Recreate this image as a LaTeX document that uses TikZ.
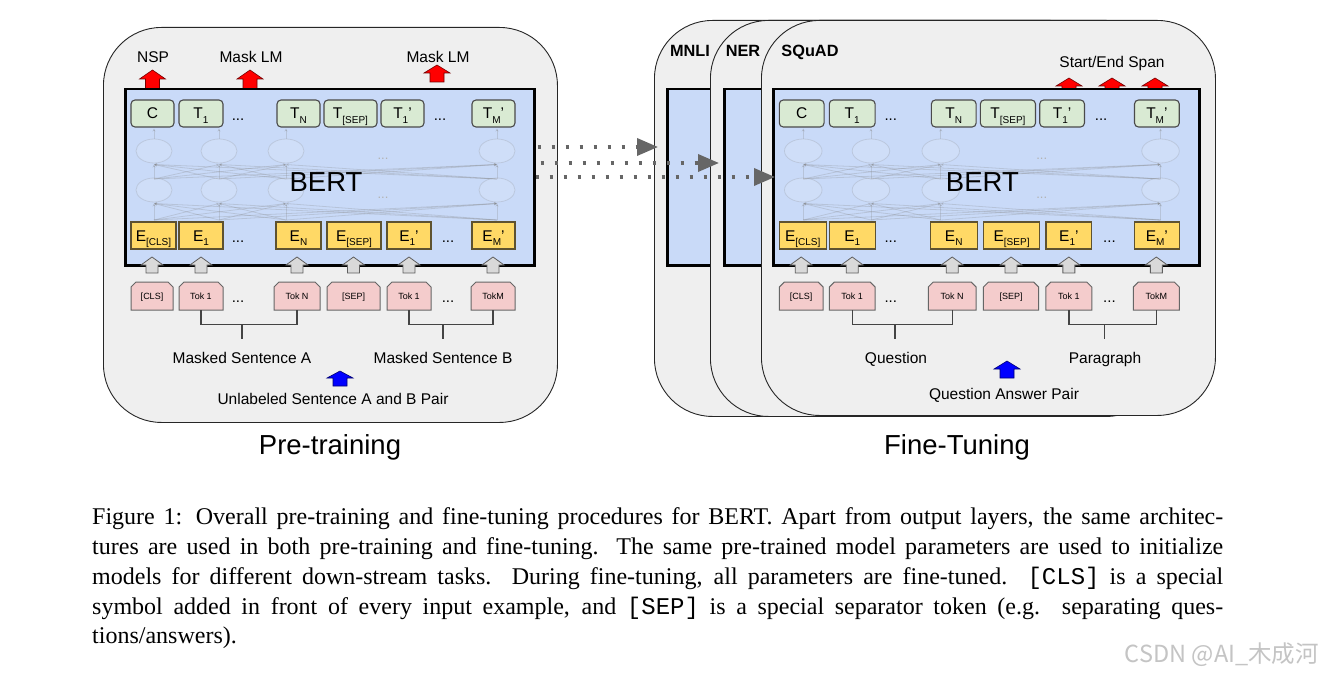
\documentclass[tikz,border=0pt]{standalone}
\usepackage{fontspec}
\setmainfont{Liberation Sans}
\setmonofont{Liberation Mono}
\newfontfamily\capfont{Liberation Serif}
\newfontfamily\cjkfont{Noto Sans CJK SC}
\usetikzlibrary{arrows.meta,shapes.geometric,calc}

\definecolor{panelfill}{HTML}{EFEFEF}
\definecolor{bertfill}{HTML}{C9DAF8}
\definecolor{tfill}{HTML}{D9EAD3}
\definecolor{efill}{HTML}{FFD966}
\definecolor{infill}{HTML}{F4CCCC}
\definecolor{tedge}{HTML}{4A4A4A}
\definecolor{eedge}{HTML}{5E5230}
\definecolor{inedge}{HTML}{666666}
\definecolor{garfill}{HTML}{D9D9D9}
\definecolor{garedge}{HTML}{5F5F5F}
\definecolor{dotgray}{HTML}{666666}
\definecolor{brkgray}{HTML}{444444}
\definecolor{wmgray}{HTML}{C4C4C4}

\newcommand\fs[1]{\fontsize{#1}{#1}\selectfont}
\newcommand\sbs[1]{\raisebox{-5pt}{\fs{10}#1}}
% block arrow: style, x, ytop, ybottom, head half width, shaft half width, head height
\newcommand\barrow[7]{\path[#1] ({#2-#6},#4) -- ({#2-#6},{#3+#7}) -- ({#2-#5},{#3+#7}) -- (#2,#3) -- ({#2+#5},{#3+#7}) -- ({#2+#6},{#3+#7}) -- ({#2+#6},#4) -- cycle;}

\tikzset{
  panel/.style={draw=black!85, line width=0.9pt, fill=panelfill, rounded corners=58pt, inner sep=0pt, minimum width=454pt, anchor=north west},
  bertbox/.style={draw=black, line width=2.5pt, fill=bertfill, inner sep=0pt, minimum height=176pt},
  tbox/.style={draw=tedge, line width=1.1pt, fill=tfill, rounded corners=4pt, minimum height=27pt, inner sep=0pt, text height=11pt, text depth=0pt, font=\fs{15.5}},
  ebox/.style={draw=eedge, line width=1.1pt, fill=efill, minimum height=27pt, inner sep=0pt, text height=11pt, text depth=0pt, font=\fs{15.5}},
  inbox/.style={minimum height=28pt, inner sep=0pt, text height=6.5pt, text depth=0pt, font=\fs{9}},
  inshape/.style={draw=inedge, line width=1pt, fill=infill},
  dotsnode/.style={inner sep=0pt, font=\fs{15}},
  faintdots/.style={inner sep=0pt, font=\fs{13}, text=black!30},
  mesh/.style={draw=black!50, opacity=0.25, line width=0.8pt, -{Stealth[length=3pt,width=3pt]}},
  ell/.style={ellipse, draw=black!50, draw opacity=0.22, fill=white, fill opacity=0.12, line width=0.8pt, minimum height=24pt, inner sep=0pt},
  berttext/.style={inner sep=0pt, font=\fs{27.5}},
  garrow/.style={draw=garedge, line width=0.8pt, fill=garfill},
  redarrow/.style={draw=black!55!red, line width=0.6pt, fill=red},
  bluearrow/.style={draw=black!55!blue, line width=0.6pt, fill=blue},
  brk/.style={draw=brkgray, line width=1.3pt},
  lbl/.style={inner sep=0pt, font=\fs{15.5}, text height=11.1pt, text depth=0pt},
  tasklbl/.style={inner sep=0pt, font=\bfseries\fs{16.3}, text height=11.7pt, text depth=0pt},
  titlelbl/.style={inner sep=0pt, font=\fs{27.5}, text height=19.7pt, text depth=0pt},
  dotarrow/.style={draw=dotgray, line width=3.5pt, dash pattern=on 3.5pt off 10.5pt, -{Triangle[length=21pt,width=17pt,fill=dotgray]}},
  capline/.style={inner sep=0pt, anchor=base west, font=\capfont\fs{24}},
}

% #1 prefix, #2 left x of the BERT box, #3 horizontal scale
\newcommand\bertpanel[3]{%
  \node[bertbox, minimum width={#3*409pt}, anchor=north west] (#1bert) at (#2,88) {};
  \foreach \ax in {30,95,162,373}{%
    \draw[mesh] ({#2+#3*\ax},139) -- ({#2+#3*\ax},128.5);
    \foreach \bx in {30,95,162,373}{%
      \draw[mesh] ({#2+#3*\ax},179) -- ({#2+#3*\bx},164.5);
      \draw[mesh] ({#2+#3*\ax},220) -- ({#2+#3*\bx},203.5);
    }
    \node[ell, minimum width={#3*36pt}] (#1ea\ax) at ({#2+#3*\ax},151) {};
    \node[ell, minimum width={#3*36pt}] (#1eb\ax) at ({#2+#3*\ax},190) {};
  }
  \node[faintdots] (#1md1) at ({#2+#3*259},159) {...};
  \node[faintdots] (#1md2) at ({#2+#3*259},198) {...};
  \node[berttext] (#1lbl) at ({#2+#3*202},182) {BERT};
  % output row
  \foreach \nm/\cx/\ww/\tx in {c/28.5/43/{C}, t1/77/44/{T\sbs{1}}, tn/174.5/43/{T\sbs{N}}, ts/226.5/53/{T\sbs{[SEP]}}, tp/278.5/43/{T\sbs{1}'}, tm/369.5/43/{T\sbs{M}'}}{%
    \node[tbox, minimum width={#3*\ww*1pt}] (#1\nm) at ({#2+#3*\cx},113.5) {\tx};
  }
  \node[dotsnode] (#1td1) at ({#2+#3*114},120) {...};
  \node[dotsnode] (#1td2) at ({#2+#3*316},120) {...};
  % embedding row
  \foreach \nm/\cx/\ww/\tx in {ec/29.5/45/{E\sbs{[CLS]}}, e1/77/44/{E\sbs{1}}, en/174.5/45/{E\sbs{N}}, es/230/54/{E\sbs{[SEP]}}, ep/285/44/{E\sbs{1}'}, em/369.5/43/{E\sbs{M}'}}{%
    \node[ebox, minimum width={#3*\ww*1pt}] (#1\nm) at ({#2+#3*\cx},235.5) {\tx};
  }
  \node[dotsnode] (#1ed1) at ({#2+#3*114},242) {...};
  \node[dotsnode] (#1ed2) at ({#2+#3*324},242) {...};
  % gray input arrows
  \foreach \cx in {28,77,173,229.5,285,369}{%
    \barrow{garrow}{#2+#3*\cx}{257}{273}{11}{6}{8}
  }
  % input tokens
  \foreach \nm/\cx/\ww/\tx in {ic/28/42/{[CLS]}, i1/77/44/{Tok 1}, in/173/46/{Tok N}, is/229.5/53/{[SEP]}, ip/285/44/{Tok 1}, im/369/44/{TokM}}{%
    \path[inshape] ({#2+#3*(\cx-\ww/2)},310) -- ({#2+#3*(\cx-\ww/2)},287) -- ({#2+#3*(\cx-\ww/2)+5},282)
       -- ({#2+#3*(\cx+\ww/2)-5},282) -- ({#2+#3*(\cx+\ww/2)},287) -- ({#2+#3*(\cx+\ww/2)},310) -- cycle;
    \node[inbox, minimum width={#3*\ww*1pt}] (#1\nm) at ({#2+#3*\cx},296) {\tx};
  }
  \node[dotsnode] (#1id1) at ({#2+#3*114},302) {...};
  \node[dotsnode] (#1id2) at ({#2+#3*324},302) {...};
  % brackets
  \draw[brk] (#1i1.south) -- ++(0,14) -| (#1in.south);
  \draw[brk] (#1ip.south) -- ++(0,14) -| (#1im.south);
  \coordinate (#1sa) at ({#2+#3*118},324);
  \coordinate (#1sb) at ({#2+#3*319},324);
  \draw[brk] (#1sa) -- ++(0,15);
  \draw[brk] (#1sb) -- ++(0,15);
}

\begin{document}
\begin{tikzpicture}[x=1pt,y=-1pt]
\path[use as bounding box, fill=white] (0,0) rectangle (1324,676);

% ---------------- Pre-training ----------------
\node[panel, minimum height=395pt] (Lpanel) at (103,27) {};
\node[lbl] (nsp) at (153,56.5) {NSP};
\node[lbl] (mlm1) at (251,56.5) {Mask LM};
\node[lbl] (mlm2) at (438,56.5) {Mask LM};
\barrow{redarrow}{152.5}{70}{90}{13}{7}{9}
\barrow{redarrow}{250}{70}{90}{13}{7}{9}
\barrow{redarrow}{437}{65}{82}{13}{7}{8}
\bertpanel{L}{124}{1}
\node[lbl] (msa) at (242,357.5) {Masked Sentence A};
\node[lbl] (msb) at (443,357.5) {Masked Sentence B};
\barrow{bluearrow}{340}{371}{386}{13}{7}{7}
\node[lbl] (unl) at (333,399) {Unlabeled Sentence A and B Pair};
\node[titlelbl] (pre) at (330,444.5) {Pre-training};

% ---------------- Fine-tuning ----------------
\node[panel, minimum height=396pt] (mnli) at (654,20) {};
\node[bertbox, minimum width=440pt, anchor=north west] (mnlib) at (666,88) {};
\node[tasklbl] (mnlil) at (690,51) {MNLI};
\node[panel, minimum height=396pt] (ner) at (710,20) {};
\node[bertbox, minimum width=440pt, anchor=north west] (nerb) at (723,88) {};
\node[tasklbl] (nerl) at (743,51) {NER};
\node[panel, minimum height=395pt] (squad) at (761,20) {};
\node[tasklbl] (squadl) at (810,51) {SQuAD};
\node[lbl] (span) at (1112,61.5) {Start/End Span};
\barrow{redarrow}{1069}{78}{96}{13}{7}{8}
\barrow{redarrow}{1112}{78}{96}{13}{7}{8}
\barrow{redarrow}{1155}{78}{96}{13}{7}{8}
\bertpanel{R}{772}{1.0416}
\node[lbl] (quest) at (896,357.5) {Question};
\node[lbl] (para) at (1105,357.5) {Paragraph};
\barrow{bluearrow}{1007}{361}{378}{13}{7}{8}
\node[lbl] (qap) at (1004,394) {Question Answer Pair};
\node[titlelbl] (fine) at (957,444.5) {Fine-Tuning};

% ---------------- transfer arrows ----------------
\coordinate (d1e) at (658,147);
\coordinate (d2e) at (719,163);
\coordinate (d3e) at (775,177);
\draw[dotarrow] ([xshift=2pt]Lbert.east |- d1e) -- (d1e);
\draw[dotarrow] ([xshift=5pt]Lbert.east |- d2e) -- (d2e);
\draw[dotarrow] (Lbert.east |- d3e) -- (d3e);

% ---------------- caption ----------------
\node[capline] (cap1) at (92,524) {\makebox[1131pt][s]{Figure 1: Overall pre-training and fine-tuning procedures for BERT. Apart from output layers, the same architec-}};
\node[capline] (cap2) at (92,554) {\makebox[1131pt][s]{tures are used in both pre-training and fine-tuning. The same pre-trained model parameters are used to initialize}};
\node[capline] (cap3) at (92,584) {\makebox[1131pt][s]{models for different down-stream tasks. During fine-tuning, all parameters are fine-tuned. \texttt{[CLS]} is a special}};
\node[capline] (cap4) at (92,614) {\makebox[1131pt][s]{symbol added in front of every input example, and \texttt{[SEP]} is a special separator token (e.g. separating ques-}};
\node[capline] (cap5) at (92,643) {tions/answers).};

\node[inner sep=0pt, anchor=base east, text=wmgray, font=\cjkfont\fs{23.5}] (wm) at (1319,662) {CSDN @AI\_木成河};
\end{tikzpicture}
\end{document}
